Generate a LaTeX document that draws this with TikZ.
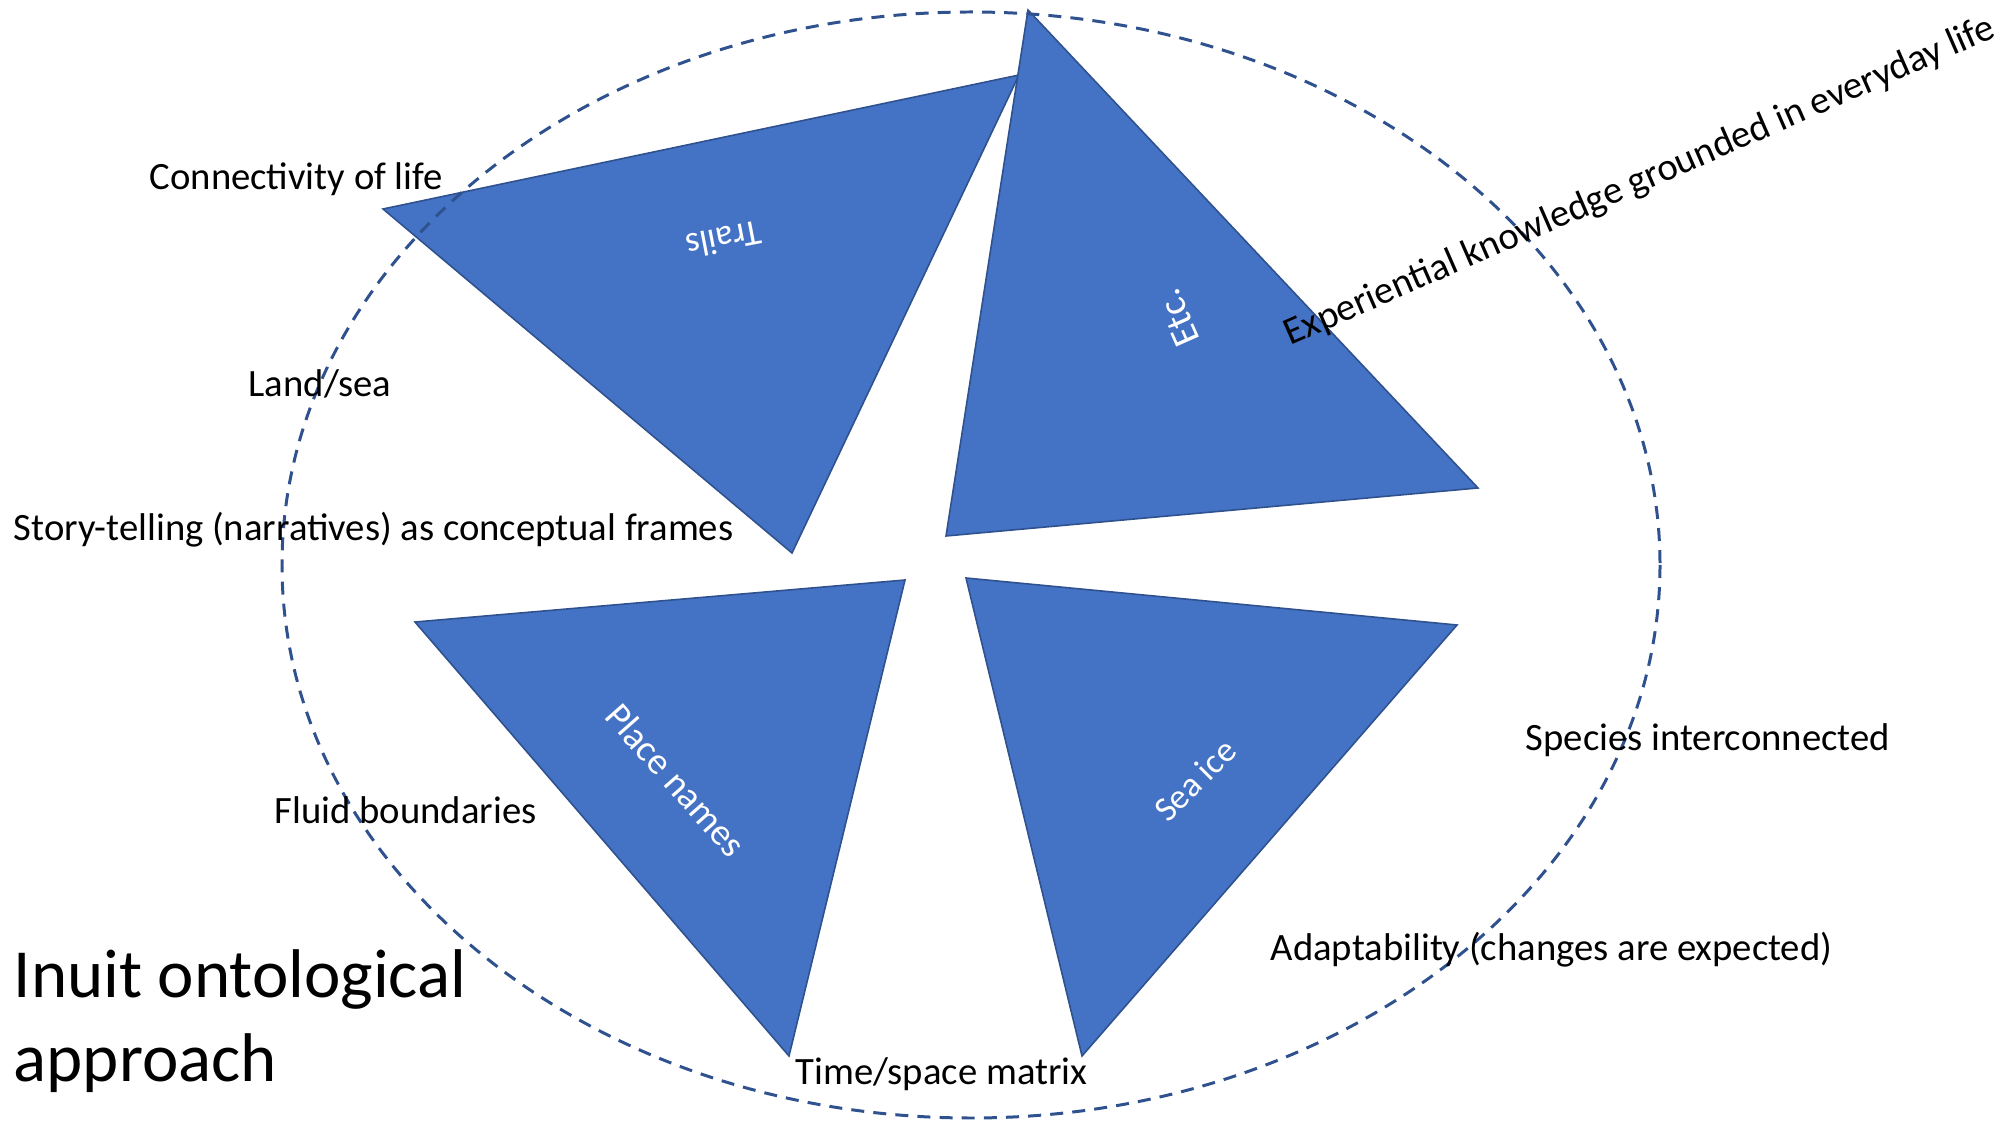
\documentclass[tikz,border=0pt]{standalone}
\usepackage{fontspec}
\setmainfont{Carlito}
\definecolor{tribg}{HTML}{4472C4}
\definecolor{triedge}{HTML}{2F528F}
\begin{document}
\begin{tikzpicture}[x=0.01cm,y=-0.01cm,
  tri/.style={fill=tribg,draw=triedge,line width=0.45pt,line join=miter},
  lbl/.style={anchor=west,inner sep=0pt,font=\fontsize{11}{13}\selectfont,text=black},
  wlbl/.style={inner sep=0pt,text=white},
  ring/.style={draw=triedge,line width=0.85pt,dash pattern=on 3.7pt off 2.6pt}]
\useasboundingbox (0,0) rectangle (2015,1125);
% triangles
\coordinate (t1) at (383,209); \coordinate (t2) at (1019,75); \coordinate (t3) at (792,553);
\coordinate (e1) at (1028,10); \coordinate (e2) at (1478,488); \coordinate (e3) at (946,536);
\coordinate (p1) at (415,622); \coordinate (p2) at (905,580); \coordinate (p3) at (789,1056);
\coordinate (s1) at (966,578); \coordinate (s2) at (1457,625); \coordinate (s3) at (1082,1056);
\path[tri] (t1) -- (t2) -- (t3) -- cycle;
\path[tri] (e1) -- (e2) -- (e3) -- cycle;
\path[tri] (p1) -- (p2) -- (p3) -- cycle;
\path[tri] (s1) -- (s2) -- (s3) -- cycle;
% white labels
\node[wlbl,rotate=191,font=\fontsize{10.3}{12}\selectfont] (trails) at (724,240) {Trails};
\node[wlbl,rotate=114,font=\fontsize{11}{13}\selectfont] (etc) at (1178,318) {Etc.};
\node[wlbl,rotate=-48.6,font=\fontsize{10.7}{12}\selectfont] (place) at (676,780) {Place names};
\node[wlbl,rotate=45,font=\fontsize{10}{12}\selectfont] (seaice) at (1195,780) {Sea ice};
% ellipse
\path[ring] (971,565) ellipse [x radius=689, y radius=553];
% black labels
\node[lbl] (conn) at (149,179) {Connectivity of life};
\node[lbl] (land) at (248,384) {Land/sea};
\node[lbl] (story) at (13,530) {Story-telling (narratives) as conceptual frames};
\node[lbl] (fluid) at (274,810) {Fluid boundaries};
\node[lbl] (time) at (795,1074) {Time/space matrix};
\node[lbl] (species) at (1525,740) {Species interconnected};
\node[lbl] (adapt) at (1270,950) {Adaptability (changes are expected)};
\node[inner sep=0pt,rotate=23.6,font=\fontsize{11}{13}\selectfont] (exp) at (1640,182) {Experiential knowledge grounded in everyday life};
\node[anchor=north west,inner sep=0pt,align=left,font=\fontsize{19.6}{24}\selectfont] (title) at (13,949) {Inuit ontological\\approach};
\end{tikzpicture}
\end{document}
